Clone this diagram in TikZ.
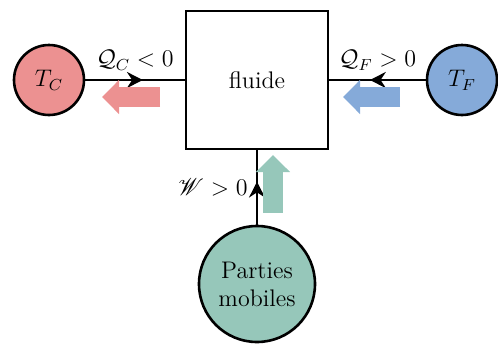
\documentclass[tikz,border=0pt]{standalone}
\usepackage{amsmath,amssymb}
\usepackage{mathrsfs}
\usetikzlibrary{arrows.meta,decorations.markings}
\definecolor{chaud}{RGB}{236,145,145}
\definecolor{froid}{RGB}{133,170,217}
\definecolor{travail}{RGB}{150,199,186}
\begin{document}
\begin{tikzpicture}[x=0.5pt, y=-0.5pt, font=\large,
        source/.style={circle, draw, line width=1.3pt, inner sep=0pt},
        systeme/.style={rectangle, draw, line width=1.3pt, minimum width=71pt, minimum height=69pt},
        flux/.style={line width=0.8pt, postaction={decorate}, decoration={markings, mark=at position 0.58 with {\arrow{Stealth[length=8pt, width=8pt]}}}},
        gros/.style={line width=10pt, -{Triangle[length=8.5pt, width=16.5pt]}}]
        \useasboundingbox (0,0) rectangle (498,343);
        \node[systeme] (F) at (257,80) {fluide};
        \node[source, fill=chaud, minimum size=35pt] (C) at (49,80) {$T_C$};
        \node[source, fill=froid, minimum size=35pt] (R) at (462,80) {$T_F$};
        \node[source, fill=travail, minimum size=58pt, align=center] (M) at (257,284) {Parties\\mobiles};

        \draw[flux] (C) -- node[above=1pt] {$\mathcal{Q}_C<0$} (F);
        \draw[flux] (R) -- node[above=1pt] {$\mathcal{Q}_F>0$} (F);
        \draw[flux] (M) -- node[left=1pt] {$\mathscr{W}>0$} (F);

        % sens reel des echanges
        \coordinate (c1) at (160,97);
        \coordinate (c2) at (102,97);
        \coordinate (r1) at (400,97);
        \coordinate (r2) at (343,97);
        \coordinate (m1) at (273,213);
        \coordinate (m2) at (273,155);
        \draw[gros, chaud] (c1) -- (c2);
        \draw[gros, froid] (r1) -- (r2);
        \draw[gros, travail] (m1) -- (m2);
    \end{tikzpicture}
\end{document}
